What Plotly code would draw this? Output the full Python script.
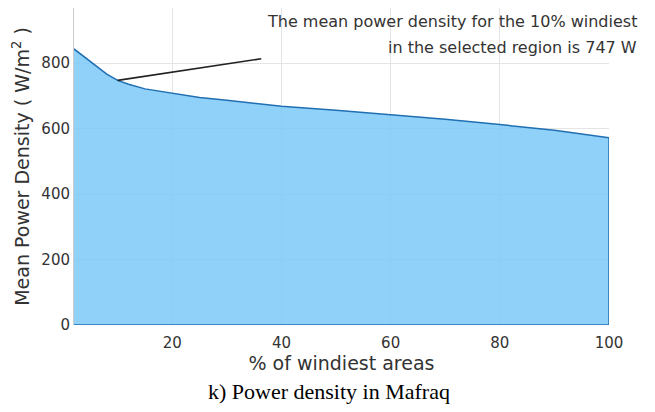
import plotly.graph_objects as go

# Share of windiest areas (%) and the mean power density over that share (W/m²)
pct_windiest = [2, 4, 6, 8, 10, 12, 15, 20, 25, 30, 35, 40, 50, 60, 70, 80, 90, 100]
mean_density = [843, 818, 792, 766, 747, 735, 721, 708, 695, 686, 677, 668, 656, 643, 628, 612, 595, 572]

# Highlighted point (10% windiest) and the end of its leader line
mark_pct = 10
mark_value = 747
leader_end = (36.3, 813)

x_ticks = [20, 40, 60, 80, 100]
y_ticks = [0, 200, 400, 600, 800]

note_lines = [
    f"The mean power density for the {mark_pct}% windiest",
    f"in the selected region is {mark_value} W",
]
caption = "k) Power density in Mafraq"

font_sans = "DejaVu Sans, Verdana, sans-serif"
text_grey = "#333333"

# Closed outline so the area's edges are drawn too
poly_x = pct_windiest + [pct_windiest[-1], pct_windiest[0]]
poly_y = mean_density + [0, 0]

fig = go.Figure()
fig.add_trace(go.Scatter(
    x=poly_x, y=poly_y,
    mode="lines",
    fill="toself",
    fillcolor="rgba(124,201,249,0.85)",
    line=dict(color="#1f6fb2", width=1.5),
    hoverinfo="skip",
    showlegend=False,
))

fig.add_shape(
    type="line", xref="x", yref="y",
    x0=mark_pct, y0=mark_value, x1=leader_end[0], y1=leader_end[1],
    line=dict(color="#222222", width=1.6),
)

# Two-line note, right-aligned above the plot
for line_text, y_pos in zip(note_lines, [0.956, 0.874]):
    fig.add_annotation(
        xref="paper", yref="paper",
        x=1.056, y=y_pos, xanchor="right", yanchor="middle",
        text=line_text, showarrow=False,
        font=dict(family=font_sans, size=16, color=text_grey),
    )

fig.add_annotation(
    xref="paper", yref="paper",
    x=0.477, y=-0.21, xanchor="center", yanchor="middle",
    text=caption, showarrow=False,
    font=dict(family="Liberation Serif, Times New Roman, serif", size=22, color="#000000"),
)

fig.update_layout(
    width=655, height=412,
    margin=dict(l=74, r=46, t=8, b=87),
    paper_bgcolor="white",
    plot_bgcolor="white",
    font=dict(family=font_sans, size=15, color=text_grey),
    xaxis=dict(
        range=[pct_windiest[0], 100],
        tickvals=x_ticks,
        showgrid=True, gridcolor="#e4e4e4", gridwidth=1,
        zeroline=False, showline=False,
        ticks="outside", ticklen=4, tickcolor="rgba(0,0,0,0)",
        title=dict(text="% of windiest areas", font=dict(size=19, color=text_grey), standoff=0),
        tickfont=dict(size=15, color=text_grey),
    ),
    yaxis=dict(
        range=[0, 968],
        tickvals=y_ticks,
        showgrid=True, gridcolor="#e4e4e4", gridwidth=1,
        zeroline=False,
        showline=True, linecolor="#cccccc", linewidth=1,
        ticks="", ticklen=0,
        title=dict(text="Mean Power Density ( W/m<sup>2</sup> )", font=dict(size=19, color=text_grey), standoff=6),
        tickfont=dict(size=15, color=text_grey),
    ),
)

fig.write_html("out.html")
